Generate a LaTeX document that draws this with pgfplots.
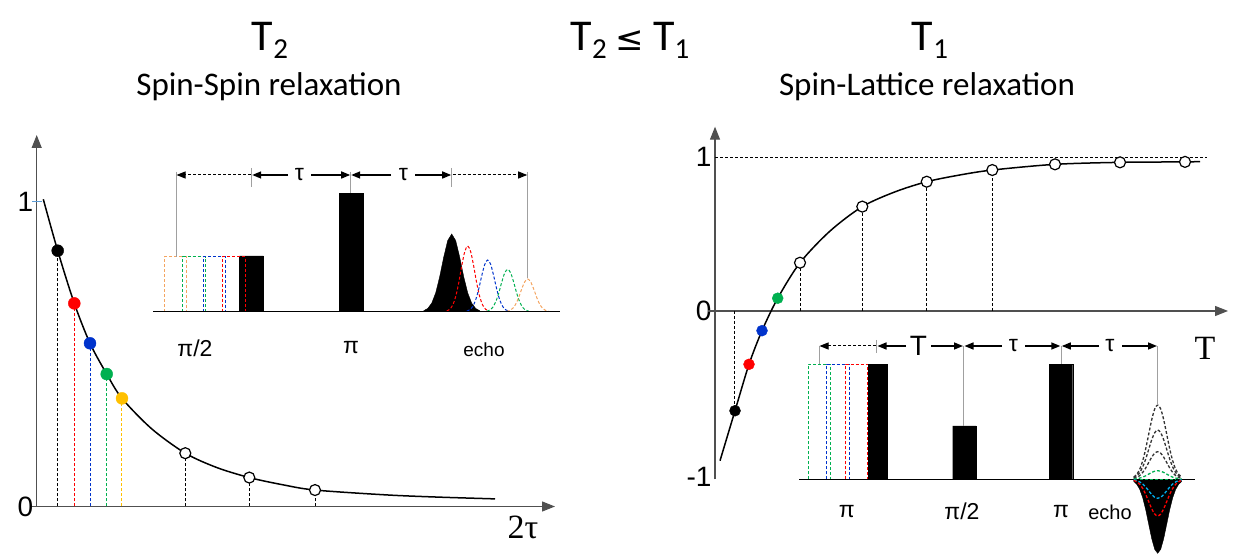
\documentclass[border=0pt]{standalone}
\usepackage{fontspec}
\setmainfont{Liberation Sans}
\newfontfamily\calfont{Carlito}
\newfontfamily\serfont{Liberation Serif}
\newfontfamily\djfont{DejaVu Sans}
\usepackage{pgfplots}
\pgfplotsset{compat=1.18}
\usetikzlibrary{arrows.meta}
\definecolor{cred}{HTML}{FF0000}
\definecolor{cblue}{HTML}{0033CC}
\definecolor{cgreen}{HTML}{00B050}
\definecolor{cyellow}{HTML}{FFC000}
\definecolor{corange}{HTML}{F4A460}
\definecolor{ccyan}{HTML}{00B0F0}
\definecolor{cgray}{HTML}{A0A0A0}
\definecolor{axgray}{HTML}{505050}
\definecolor{tickblue}{HTML}{5B9BD5}
\newcommand{\fs}[1]{\fontsize{#1bp}{#1bp}\selectfont}
\tikzset{
  dline/.style={dash pattern=on 3bp off 2bp, line width=1bp},
  vline/.style={cgray, line width=1bp},
  arr/.style={black, line width=1.5bp, -{Triangle[length=9bp,width=7bp]}},
  darr/.style={black, line width=1bp, dash pattern=on 3bp off 2bp, -{Triangle[length=9bp,width=7bp]}},
  axarr/.style={axgray, line width=1.2bp, -{Triangle[length=13bp,width=10bp]}},
}
\begin{document}
\begin{tikzpicture}[x=1bp,y=1bp]
\useasboundingbox (0,0) rectangle (1234,555);
% ---------------- left: T2 decay ----------------
\begin{axis}[at={(36.7bp,48.5bp)}, anchor=south west, scale only axis,
  width=518.3bp, height=371.5bp, xmin=0, xmax=518.3, ymin=0, ymax=1.22,
  axis lines=left, axis line style={axarr},
  xtick=\empty, ytick={0,1}, yticklabels={0,1}, major tick length=0pt,
  yticklabel style={font=\fs{28}},
  clip=false]
\draw[axgray, line width=1.2bp] (axis cs:0,0) -- (axis cs:-5,0);
\draw[tickblue, line width=1bp] (axis cs:-4.7,1) -- (axis cs:5.3,1);
\addplot[black, dline] coordinates {(21.0,0) (21.0,0.840)};
\addplot[cred, dline] coordinates {(37.6,0) (37.6,0.667)};
\addplot[cblue, dline] coordinates {(53.3,0) (53.3,0.536)};
\addplot[cgreen, dline] coordinates {(69.5,0) (69.5,0.435)};
\addplot[cyellow, dline] coordinates {(85.0,0) (85.0,0.355)};
\addplot[black, dline] coordinates {(148.6,0) (148.6,0.175)};
\addplot[black, dline] coordinates {(212.6,0) (212.6,0.095)};
\addplot[black, dline] coordinates {(278.3,0) (278.3,0.054)};
\addplot[black, line width=1.5bp, smooth] coordinates {(6.6,1.009) (21.0,0.840) (37.6,0.667) (53.3,0.536) (70.0,0.435) (85.3,0.355) (115,0.255) (148.6,0.175) (180,0.128) (212.6,0.095) (245,0.072) (278.3,0.054) (350,0.038) (400,0.031) (458.3,0.025)};
\addplot[only marks, mark=*, mark size=6bp, black] coordinates {(21.0,0.840)};
\addplot[only marks, mark=*, mark size=6bp, cred] coordinates {(37.6,0.667)};
\addplot[only marks, mark=*, mark size=6bp, cblue] coordinates {(53.3,0.536)};
\addplot[only marks, mark=*, mark size=6bp, cgreen] coordinates {(70.0,0.435)};
\addplot[only marks, mark=*, mark size=6bp, cyellow] coordinates {(85.3,0.355)};
\addplot[only marks, mark=*, mark size=5.5bp, mark options={fill=white, draw=black, line width=1.2bp}] coordinates {(148.6,0.175) (212.6,0.095) (278.3,0.054)};
\end{axis}
% ---------------- right: T1 recovery ----------------
\begin{axis}[at={(715bp,75.7bp)}, anchor=south west, scale only axis,
  width=513bp, height=352.6bp, xmin=0, xmax=513, ymin=-1.095, ymax=1.199,
  axis x line=middle, axis y line=left, axis line style={axarr},
  xtick=\empty, ytick={-1.08,0,1}, yticklabels={-1,0,1}, major tick length=0pt,
  hide obscured y ticks=false,
  yticklabel style={font=\fs{28}},
  clip=false]
\draw[axgray, line width=1.2bp] (axis cs:0,0) -- (axis cs:-7,0);
\addplot[black, dline] coordinates {(0,1) (491.7,1)};
\addplot[black, dline] coordinates {(19.3,0) (19.3,-0.649)};
\addplot[black, dline] coordinates {(85,0) (85,0.314)};
\addplot[black, dline] coordinates {(147.3,0) (147.3,0.679)};
\addplot[black, dline] coordinates {(211.7,0) (211.7,0.841)};
\addplot[black, dline] coordinates {(277.3,0) (277.3,0.917)};
\addplot[black, line width=1.5bp, smooth] coordinates {(5,-0.974) (20,-0.649) (34,-0.347) (47,-0.128) (62.7,0.083) (85,0.314) (115,0.52) (147.3,0.679) (180,0.775) (211.7,0.841) (245,0.885) (277.3,0.917) (340,0.954) (405,0.967) (470,0.970) (485,0.972)};
\addplot[only marks, mark=*, mark size=5.5bp, black] coordinates {(20,-0.649)};
\addplot[only marks, mark=*, mark size=5.5bp, cred] coordinates {(34,-0.347)};
\addplot[only marks, mark=*, mark size=5.5bp, cblue] coordinates {(47,-0.128)};
\addplot[only marks, mark=*, mark size=5.5bp, cgreen] coordinates {(62.7,0.083)};
\addplot[only marks, mark=*, mark size=5.5bp, mark options={fill=white, draw=black, line width=1.2bp}] coordinates {(85,0.314) (147.3,0.679) (211.7,0.841) (277.3,0.917) (340,0.954) (405,0.967) (470,0.970)};
\end{axis}
% ---------------- overlay: pulse sequences and texts (pixel coordinates) ----------------
\begin{axis}[at={(0bp,0bp)}, anchor=south west, scale only axis, width=1234bp, height=555bp,
  xmin=0, xmax=1234, ymin=0, ymax=555, y dir=reverse, hide axis, clip=false]
% ===== left inset =====
\addplot[fill=black, draw=black] coordinates {(239.3,311.7) (239.3,256) (263.3,256) (263.3,311.7) (239.3,311.7)};
\addplot[fill=black, draw=black] coordinates {(339.3,311.7) (339.3,193.3) (363.3,193.3) (363.3,311.7) (339.3,311.7)};
\addplot[corange, dline] coordinates {(164,311.7) (164,256.7) (186,256.7) (186,311.7)};
\addplot[cgreen, dline] coordinates {(182.7,311.7) (182.7,256.7) (205,256.7) (205,311.7)};
\addplot[cblue, dline] coordinates {(203,311.7) (203,256.7) (225,256.7) (225,311.7)};
\addplot[cred, dline] coordinates {(222,311.7) (222,256.7) (245,256.7) (245,311.7)};
% echo (left)
\addplot[fill=black, draw=black] coordinates {(423.7,311.7) (423.7,310.7) (427.7,308.5) (431.7,303.2) (435.7,292.9) (439.7,276.7) (443.7,257.2) (447.7,240.6) (451.7,234) (455.7,240.6) (459.7,257.2) (463.7,276.7) (467.7,292.9) (471.7,303.2) (475.7,308.5) (479.7,310.7) (479.7,311.7)};
\addplot[cred, dline, smooth] coordinates {(446.7,311) (449.7,309.3) (452.7,305.1) (455.7,296.6) (458.7,283) (461.7,266.2) (464.7,251.8) (467.7,246) (470.7,251.8) (473.7,266.2) (476.7,283) (479.7,296.6) (482.7,305.1) (485.7,309.3) (488.7,311)};
\addplot[cblue, dline, smooth] coordinates {(466.7,311.1) (469.7,309.8) (472.7,306.5) (475.7,299.8) (478.7,289.1) (481.7,275.9) (484.7,264.5) (487.7,260) (490.7,264.5) (493.7,275.9) (496.7,289.1) (499.7,299.8) (502.7,306.5) (505.7,309.8) (508.7,311.1)};
\addplot[cgreen, dline, smooth] coordinates {(486.7,311.2) (489.7,310.1) (492.7,307.4) (495.7,301.9) (498.7,293.2) (501.7,282.3) (504.7,273) (507.7,269.3) (510.7,273) (513.7,282.3) (516.7,293.2) (519.7,301.9) (522.7,307.4) (525.7,310.1) (528.7,311.2)};
\addplot[corange, dline, smooth] coordinates {(506.7,311.3) (509.7,310.5) (512.7,308.4) (515.7,304.2) (518.7,297.4) (521.7,289) (524.7,281.9) (527.7,279) (530.7,281.9) (533.7,289) (536.7,297.4) (539.7,304.2) (542.7,308.4) (545.7,310.5) (548.7,311.3)};
\addplot[black, line width=1.5bp] coordinates {(153.3,311.7) (560,311.7)};
% markers and arrows (left)
\addplot[vline] coordinates {(176,171.7) (176,256.7)};
\addplot[vline] coordinates {(251.7,168) (251.7,187)};
\addplot[vline] coordinates {(350.7,171.7) (350.7,193.3)};
\addplot[vline] coordinates {(451.7,168) (451.7,187)};
\addplot[vline] coordinates {(527.7,171.7) (527.7,278.3)};
\addplot[darr] coordinates {(250.7,175) (176.5,175)};
\addplot[arr] coordinates {(288,175) (252.2,175)};
\addplot[arr] coordinates {(311,175) (350.2,175)};
\addplot[arr] coordinates {(391,175) (351.2,175)};
\addplot[arr] coordinates {(415,175) (451.2,175)};
\addplot[darr] coordinates {(452.7,175) (527.2,175)};
\node[font=\fs{23}] at (axis cs:299.3,175) {τ};
\node[font=\fs{23}] at (axis cs:403.3,175) {τ};
\node[font=\fs{23}] at (axis cs:195,348) {π/2};
\node[font=\fs{23}] at (axis cs:351,348) {π};
\node[font=\fs{19}] at (axis cs:484,350) {echo};
% ===== right inset =====
\addplot[fill=black, draw=black] coordinates {(868.3,479.3) (868.3,364.3) (887.3,364.3) (887.3,479.3) (868.3,479.3)};
\addplot[fill=black, draw=black] coordinates {(952.7,479.3) (952.7,426) (976,426) (976,479.3) (952.7,479.3)};
\addplot[fill=black, draw=black] coordinates {(1049.3,479.3) (1049.3,364.3) (1072.7,364.3) (1072.7,479.3) (1049.3,479.3)};
\addplot[cgreen, dline, line width=1.3bp] coordinates {(808.3,479.3) (808.3,364.3) (830.7,364.3) (830.7,479.3)};
\addplot[cblue, dline, line width=1.3bp] coordinates {(826.7,479.3) (826.7,364.3) (849.3,364.3) (849.3,479.3)};
\addplot[cred, dline, line width=1.3bp] coordinates {(845.7,479.3) (845.7,364.3) (867.7,364.3) (867.7,479.3)};
% echo (right)
\addplot[fill=black, draw=black] coordinates {(1133.7,479.3) (1133.7,481.4) (1136.7,484.2) (1139.7,489.3) (1142.7,497.7) (1145.7,509.7) (1148.7,524.2) (1151.7,538.6) (1154.7,549.3) (1157.7,553.3) (1160.7,549.3) (1163.7,538.6) (1166.7,524.2) (1169.7,509.7) (1172.7,497.7) (1175.7,489.3) (1178.7,484.2) (1181.7,481.4) (1181.7,479.3)};
\addplot[black, line width=1.5bp] coordinates {(799.3,479.3) (1195,479.3)};
\addplot[black!80, dline, line width=1.3bp, smooth] coordinates {(1133.7,477.1) (1136.7,474.4) (1139.7,469.3) (1142.7,460.8) (1145.7,448.8) (1148.7,434.2) (1151.7,419.8) (1154.7,409) (1157.7,405) (1160.7,409) (1163.7,419.8) (1166.7,434.2) (1169.7,448.8) (1172.7,460.8) (1175.7,469.3) (1178.7,474.4) (1181.7,477.1)};
\addplot[black!80, dline, line width=1.3bp, smooth] coordinates {(1133.7,477.9) (1136.7,476) (1139.7,472.6) (1142.7,467) (1145.7,459) (1148.7,449.4) (1151.7,439.8) (1154.7,432.7) (1157.7,430) (1160.7,432.7) (1163.7,439.8) (1166.7,449.4) (1169.7,459) (1172.7,467) (1175.7,472.6) (1178.7,476) (1181.7,477.9)};
\addplot[black!80, dline, line width=1.3bp, smooth] coordinates {(1133.7,478.5) (1136.7,477.5) (1139.7,475.6) (1142.7,472.4) (1145.7,468) (1148.7,462.5) (1151.7,457.2) (1154.7,453.2) (1157.7,451.7) (1160.7,453.2) (1163.7,457.2) (1166.7,462.5) (1169.7,468) (1172.7,472.4) (1175.7,475.6) (1178.7,477.5) (1181.7,478.5)};
\addplot[cgreen, dline, line width=1.3bp, smooth] coordinates {(1133.7,479.1) (1136.7,478.7) (1139.7,478.1) (1142.7,477.2) (1145.7,475.8) (1148.7,474.1) (1151.7,472.4) (1154.7,471.2) (1157.7,470.7) (1160.7,471.2) (1163.7,472.4) (1166.7,474.1) (1169.7,475.8) (1172.7,477.2) (1175.7,478.1) (1178.7,478.7) (1181.7,479.1)};
\addplot[cgreen, dline, line width=1bp] coordinates {(1140,479.3) (1176,479.3)};
\addplot[ccyan, dline, line width=1.3bp, smooth] coordinates {(1133.7,479.9) (1136.7,480.6) (1139.7,481.9) (1142.7,484) (1145.7,487.1) (1148.7,490.8) (1151.7,494.5) (1154.7,497.3) (1157.7,498.3) (1160.7,497.3) (1163.7,494.5) (1166.7,490.8) (1169.7,487.1) (1172.7,484) (1175.7,481.9) (1178.7,480.6) (1181.7,479.9)};
\addplot[cred, dline, line width=1.3bp, smooth] coordinates {(1133.7,480.4) (1136.7,481.7) (1139.7,484.3) (1142.7,488.4) (1145.7,494.4) (1148.7,501.6) (1151.7,508.7) (1154.7,514) (1157.7,516) (1160.7,514) (1163.7,508.7) (1166.7,501.6) (1169.7,494.4) (1172.7,488.4) (1175.7,484.3) (1178.7,481.7) (1181.7,480.4)};
% markers and arrows (right)
\addplot[vline] coordinates {(819,346) (819,364.3)};
\addplot[vline] coordinates {(876.7,340) (876.7,353)};
\addplot[vline] coordinates {(963.7,346) (963.7,426)};
\addplot[vline] coordinates {(1061,346) (1061,364.3)};
\addplot[vline] coordinates {(1157.7,346) (1157.7,405)};
\addplot[darr] coordinates {(876,346) (819.5,346)};
\addplot[arr] coordinates {(906,346) (877.5,346)};
\addplot[arr] coordinates {(931,346) (963,346)};
\addplot[arr] coordinates {(1002,346) (964.5,346)};
\addplot[arr] coordinates {(1025,346) (1060.3,346)};
\addplot[arr] coordinates {(1099,346) (1061.8,346)};
\addplot[arr] coordinates {(1122,346) (1157,346)};
\node[font=\fs{28}] at (axis cs:918.3,346) {T};
\node[font=\fs{23}] at (axis cs:1013.3,346) {τ};
\node[font=\fs{23}] at (axis cs:1110,346) {τ};
\node[font=\fs{23}] at (axis cs:846.7,511.7) {π};
\node[font=\fs{23}] at (axis cs:962,511.7) {π/2};
\node[font=\fs{23}] at (axis cs:1061,511.7) {π};
\node[font=\fs{20}] at (axis cs:1110,512) {echo};
% ===== axis names =====
\node[font=\serfont\fs{34}] at (axis cs:523,527) {2τ};
\node[font=\serfont\fs{34}] at (axis cs:1205,348) {T};
% ===== titles =====
\node[font=\calfont\fs{44}, anchor=base] at (axis cs:270,51) {T\raisebox{-0.17em}{\fs{29}2}};
\node[font=\calfont\fs{44}, anchor=base] at (axis cs:630,51) {T\raisebox{-0.17em}{\fs{29}2}\hspace{9bp}{\djfont\fs{34}≤}\hspace{9bp}T\raisebox{-0.17em}{\fs{29}1}};
\node[font=\calfont\fs{44}, anchor=base] at (axis cs:930,51) {T\raisebox{-0.17em}{\fs{29}1}};
\node[font=\calfont\fs{33}, anchor=base] at (axis cs:269,96) {Spin-Spin relaxation};
\node[font=\calfont\fs{33}, anchor=base] at (axis cs:927,96) {Spin-Lattice relaxation};
\end{axis}
\end{tikzpicture}
\end{document}
